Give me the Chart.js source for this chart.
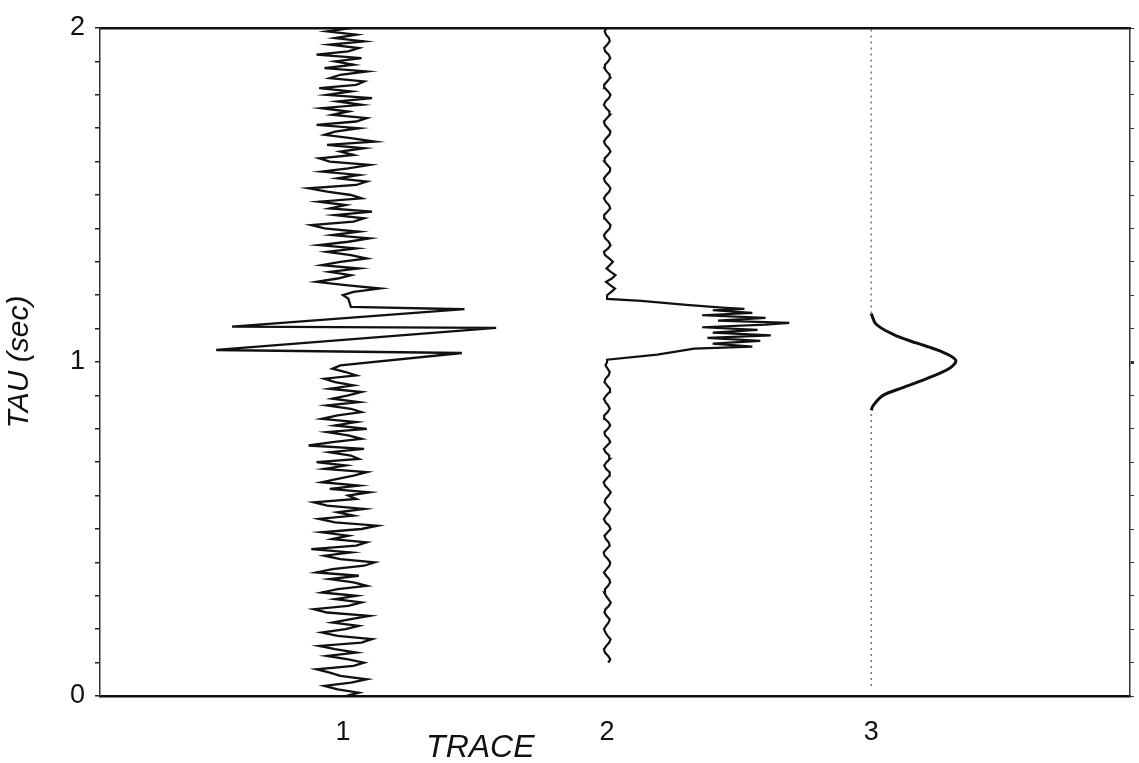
<!DOCTYPE html>
<html><head><meta charset="utf-8">
<script src="https://cdn.jsdelivr.net/npm/chart.js@4.4.1/dist/chart.umd.min.js"></script>
<style>html,body{margin:0;padding:0;background:#fff;}#wrap{width:1139px;height:763px;}</style>
</head><body><div id="wrap"><canvas id="c" width="1139" height="763"></canvas></div>
<script>
// ---- axis definitions ----
const traceTicks = [1, 2, 3];
const traceLabels = ['1', '2', '3'];
const traceMin = 0.08, traceMax = 3.98;
const tauMin = 0, tauMax = 2, tauStep = 0.1;
const xTitle = 'TRACE';
const xTitleAt = 1.52;
const yTitle = 'TAU (sec)';
const sampleInterval = 0.01;

// ---- trace 1 (noisy trace with wavelet) ----
const trace1LowStart = 0.00;
const trace1Low = [
 0.01,0.06,-0.02,-0.07,0.03,0.09,-0.01,-0.05,-0.10,0.04,
 0.08,0.02,-0.06,0.05,-0.03,-0.09,0.07,0.11,-0.02,-0.08,
 0.01,0.06,-0.04,0.03,0.10,-0.06,-0.11,0.02,0.07,-0.03,
 0.05,-0.08,-0.02,0.09,0.04,-0.05,0.06,-0.10,-0.04,0.08,
 0.12,-0.01,-0.07,0.03,-0.12,0.05,0.09,-0.04,0.02,-0.08,
 0.07,0.13,-0.03,-0.09,0.04,-0.02,0.08,-0.06,-0.11,0.05,
 0.02,0.10,-0.05,0.06,-0.08,-0.02,0.04,0.09,-0.07,0.01,
 -0.10,0.06,0.03,-0.05,0.08,-0.13,-0.04,0.07,0.02,-0.06,
 0.09,-0.03,0.05,-0.08,-0.02,0.07,0.03,-0.06,0.06,-0.04,
 0.02,0.07,-0.05,0.04,-0.03,-0.07,0.05,0.01,-0.04
];
const trace1Wavelet = [
 [0.990,-0.01],[1.027,0.45],[1.036,-0.48],[1.102,0.58],
 [1.106,-0.42],[1.158,0.46],[1.165,0.03]
];
const trace1HighStart = 1.19;
const trace1High = [
 0.02,0.00,0.04,0.14,0.01,-0.10,-0.02,0.03,-0.05,0.06,
 -0.08,-0.01,0.09,0.03,-0.06,0.05,-0.09,0.02,0.10,-0.04,
 0.06,-0.07,-0.12,0.04,0.08,-0.03,0.11,-0.05,0.01,-0.09,
 0.07,0.03,-0.06,-0.13,0.05,0.09,-0.02,0.06,-0.08,0.02,
 0.10,-0.05,-0.09,0.04,-0.01,0.08,-0.06,0.12,0.03,-0.07,
 -0.03,0.06,-0.10,0.05,0.09,-0.04,0.02,-0.08,0.07,-0.02,
 0.11,-0.06,0.03,-0.09,0.05,0.08,-0.05,-0.01,0.09,-0.07,
 0.04,-0.03,0.07,-0.10,0.02,0.06,-0.05,0.08,-0.03,0.05,
 -0.06,0.03
];

// ---- trace 2 (low noise with pulse) ----
const trace2LowStart = 0.10;
const trace2Low = [
 0.005,0.012,0.004,-0.008,-0.012,-0.003,0.008,0.013,0.002,-0.006,
 -0.012,-0.004,0.006,0.010,-0.002,-0.010,-0.006,0.007,0.014,0.005,
 -0.004,-0.011,-0.008,0.004,0.012,0.008,-0.003,-0.012,-0.002,0.009,
 0.012,0.003,-0.009,-0.013,-0.002,0.010,0.006,-0.005,-0.010,0.002,
 0.013,0.008,-0.006,-0.012,-0.004,0.007,0.012,0.001,-0.009,-0.006,
 0.006,0.014,0.004,-0.008,-0.013,-0.003,0.009,0.010,-0.004,-0.011,
 -0.002,0.011,0.008,-0.006,-0.012,0.000,0.012,0.006,-0.007,-0.010,
 0.003,0.012,0.005,-0.009,-0.011,0.002,0.010,0.004,-0.006,-0.012,
 -0.003,0.009,0.011,0.000,-0.010,-0.006,0.006,0.010,0.002,-0.006,
 0.000
];
const trace2Pulse = [
 [1.007,0.0],[1.022,0.19],[1.040,0.33],[1.046,0.55],[1.055,0.40],
 [1.063,0.58],[1.072,0.38],[1.080,0.62],[1.088,0.40],[1.096,0.57],
 [1.104,0.36],[1.112,0.60],[1.117,0.69],[1.124,0.42],[1.132,0.60],
 [1.140,0.36],[1.147,0.55],[1.155,0.40],[1.159,0.52],[1.162,0.45],
 [1.171,0.30],[1.183,0.13],[1.189,0.0]
];
const trace2HighStart = 1.20;
const trace2High = [
 0.000,0.016,0.030,0.012,-0.004,0.018,0.032,0.014,-0.002,0.010,
 0.022,0.008,-0.008,-0.012,0.004,0.013,0.006,-0.007,-0.012,-0.002,
 0.010,0.013,0.002,-0.009,-0.011,0.001,0.012,0.007,-0.005,-0.012,
 -0.004,0.008,0.013,0.004,-0.008,-0.012,-0.002,0.010,0.012,0.001,
 -0.010,-0.009,0.003,0.013,0.006,-0.006,-0.012,-0.003,0.009,0.013,
 0.003,-0.008,-0.012,-0.001,0.011,0.009,-0.004,-0.012,-0.006,0.007,
 0.013,0.004,-0.008,-0.011,0.000,0.011,0.010,-0.002,-0.010,-0.008,
 0.004,0.012,0.006,-0.007,-0.011,0.000,0.010,0.007,-0.004,-0.009,
 -0.002
];

// ---- trace 3 (smooth pulse) ----
const trace3BaseStart = 0.03, trace3BaseEnd = 2.0;
const trace3Pulse = [
 [0.855,0],[0.870,0.008],[0.900,0.045],[0.923,0.12],[0.950,0.21],
 [0.983,0.30],[1.006,0.32],[1.033,0.26],[1.057,0.17],[1.083,0.083],
 [1.113,0.019],[1.145,0]
];

// ---- build points ----
function sampled(trace, start, amps){
  return amps.map((a,i)=>({x: trace + a, y: +(start + i*sampleInterval).toFixed(4)}));
}
function pairs(trace, list){
  return list.map(p=>({x: trace + p[1], y: p[0]}));
}
const t1 = [].concat(sampled(1, trace1LowStart, trace1Low), pairs(1, trace1Wavelet), sampled(1, trace1HighStart, trace1High));
const t2 = [].concat(sampled(2, trace2LowStart, trace2Low), pairs(2, trace2Pulse), sampled(2, trace2HighStart, trace2High));
const t3 = pairs(3, trace3Pulse);
const t3base = [
  {x:3, y:trace3BaseStart}, {x:3, y:trace3Pulse[0][0]}, {x:3, y:null},
  {x:3, y:trace3Pulse[trace3Pulse.length-1][0]}, {x:3, y:trace3BaseEnd}
];

const ink = '#111';
const FONT = '"Liberation Sans", Arial, sans-serif';

const titlePlugin = {
  id: 'traceTitle',
  afterDraw(chart){
    const ctx = chart.ctx, xs = chart.scales.x;
    ctx.save();
    ctx.font = 'italic 32px ' + FONT;
    ctx.fillStyle = ink;
    ctx.textAlign = 'center';
    ctx.textBaseline = 'alphabetic';
    ctx.fillText(xTitle, xs.getPixelForValue(xTitleAt), 757);
    ctx.restore();
  }
};

new Chart(document.getElementById('c'), {
  type: 'scatter',
  data: { datasets: [
    { data: t1, showLine: true, borderColor: ink, borderWidth: 2.3, pointRadius: 0, tension: 0 },
    { data: t2, showLine: true, borderColor: ink, borderWidth: 2.2, pointRadius: 0, tension: 0 },
    { data: t3base, showLine: true, borderColor: '#555', borderWidth: 1.2, borderDash: [2,4], pointRadius: 0, spanGaps: false },
    { data: t3, showLine: true, borderColor: ink, borderWidth: 3, pointRadius: 0, tension: 0.35 }
  ]},
  options: {
    responsive: false, animation: false, devicePixelRatio: 1,
    layout: { padding: { top: 28, right: 5, left: 0, bottom: 0 } },
    plugins: { legend: { display: false }, tooltip: { enabled: false } },
    scales: {
      x: {
        type: 'linear', position: 'bottom', min: traceMin, max: traceMax,
        afterBuildTicks: s => { s.ticks = traceTicks.map(v => ({ value: v })); },
        ticks: { autoSkip: false, maxRotation: 0, padding: 12, color: ink,
                 font: { family: FONT, size: 27 },
                 callback: v => traceLabels[traceTicks.indexOf(v)] },
        grid: { display: false },
        border: { display: true, color: ink, width: 2.5 },
        afterFit: s => { s.height = 67; }
      },
      x2: {
        type: 'linear', axis: 'x', position: 'top', min: traceMin, max: traceMax,
        ticks: { display: false }, grid: { display: false },
        border: { display: true, color: ink, width: 2.5 },
        afterFit: s => { s.height = 0; }
      },
      y: {
        type: 'linear', position: 'left', min: tauMin, max: tauMax,
        ticks: { stepSize: tauStep, autoSkip: false, padding: 10, color: ink,
                 font: { family: FONT, size: 27 },
                 callback: v => Math.abs(v - Math.round(v)) < 1e-6 ? String(Math.round(v)) : '' },
        grid: { drawOnChartArea: false, drawTicks: true, tickLength: 5, color: '#222', lineWidth: 1.5 },
        border: { display: true, color: '#333', width: 1.5, dash: [2, 4] },
        title: { display: true, text: yTitle, color: ink, font: { family: FONT, size: 30, style: 'italic' }, padding: { top: 2, bottom: 0 } },
        afterFit: s => { s.width = 100; }
      },
      y2: {
        type: 'linear', axis: 'y', position: 'right', min: tauMin, max: tauMax,
        ticks: { stepSize: tauStep, autoSkip: false, callback: () => '', padding: 0 },
        grid: { drawOnChartArea: false, drawTicks: true, tickLength: 4, color: '#333',
                lineWidth: c => (c.tick && Math.abs(c.tick.value - 1) < 1e-6) ? 3 : 1 },
        border: { display: true, color: '#333', width: 1.5, dash: [3, 4] },
        afterFit: s => { s.width = 4; }
      }
    }
  },
  plugins: [titlePlugin]
});
</script>
</body></html>
